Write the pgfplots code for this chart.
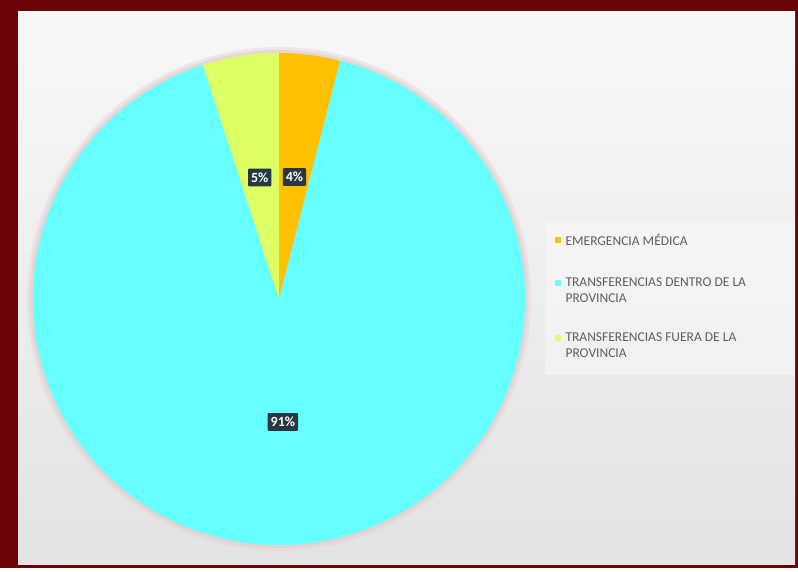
\documentclass[border=0pt]{standalone}
\usepackage{pgfplots}
\usepackage{pgfplotstable}
\pgfplotsset{compat=1.18}
\usepackage{fontspec}
\setmainfont{Carlito}
\definecolor{frame}{RGB}{105,5,8}
\definecolor{slice0}{RGB}{255,192,0}
\definecolor{slice1}{RGB}{102,255,255}
\definecolor{slice2}{RGB}{222,255,100}
\definecolor{lblbg}{RGB}{40,55,68}
\definecolor{legtext}{RGB}{95,95,95}
\tikzset{lbl/.style={fill=lblbg,text=white,font=\bfseries\fontsize{14}{14}\selectfont,inner xsep=3pt,inner ysep=4pt,rounded corners=1pt}}

\pgfplotstableread{
value
4
91
5
}\piedata

\begin{document}
\begin{tikzpicture}
\begin{axis}[x=1pt,y=1pt,xmin=0,xmax=798,ymin=0,ymax=568,
  hide axis, clip=false, scale only axis]
% frame and background
\fill[frame] (axis cs:0,0) rectangle (axis cs:798,568);
\fill[top color=gray!6,bottom color=gray!22] (axis cs:18,3) rectangle (axis cs:795,556);
% halo
\fill[red!25!gray!25,opacity=0.5] (axis cs:279,269) circle[radius=252pt];
\fill[red!25!gray!30,opacity=0.6] (axis cs:279,269) circle[radius=249pt];
% pie
\def\cum{0}
\pgfplotsforeachungrouped \i in {0,1,2}{%
  \pgfplotstablegetelem{\i}{value}\of\piedata
  \let\v=\pgfplotsretval
  \pgfmathsetmacro{\a}{90-3.6*\cum}%
  \pgfmathsetmacro{\b}{90-3.6*(\cum+\v)}%
  \pgfmathsetmacro{\sx}{279+246*cos(\a)}%
  \pgfmathsetmacro{\sy}{269+246*sin(\a)}%
  \edef\tmp{\noexpand\fill[slice\i] (axis cs:279,269) -- (axis cs:\sx,\sy) arc[start angle=\a, end angle=\b, radius=246pt] -- cycle;}%
  \tmp
  \pgfmathsetmacro{\cum}{\cum+\v}%
}
\def\cum{0}
\pgfplotsforeachungrouped \i in {0,1,2}{%
  \pgfplotstablegetelem{\i}{value}\of\piedata
  \let\v=\pgfplotsretval
  \pgfmathsetmacro{\a}{90-3.6*\cum}%
  \pgfmathsetmacro{\b}{90-3.6*(\cum+\v)}%
  \pgfmathsetmacro{\m}{(\a+\b)/2}%
  \pgfmathsetmacro{\lx}{279+123*cos(\m)}%
  \pgfmathsetmacro{\ly}{269+123*sin(\m)}%
  \edef\tmp{\noexpand\node[lbl] at (axis cs:\lx,\ly) {\v\noexpand\%};}%
  \tmp
  \pgfmathsetmacro{\cum}{\cum+\v}%
}
% legend
\fill[white,opacity=0.35] (axis cs:545,193) rectangle (axis cs:795,345);
\fill[slice0] (axis cs:555,325) rectangle (axis cs:561,331);
\node[anchor=west,text=legtext,font=\fontsize{13.5}{16}\selectfont] at (axis cs:562,328) {EMERGENCIA MÉDICA};
\fill[slice1] (axis cs:555,282) rectangle (axis cs:561,288);
\node[anchor=north west,text=legtext,align=left,font=\fontsize{13.5}{16}\selectfont] at (axis cs:562,294) {TRANSFERENCIAS DENTRO DE LA\\PROVINCIA};
\fill[slice2] (axis cs:555,227) rectangle (axis cs:561,233);
\node[anchor=north west,text=legtext,align=left,font=\fontsize{13.5}{16}\selectfont] at (axis cs:562,239) {TRANSFERENCIAS FUERA DE LA\\PROVINCIA};
\end{axis}
\end{tikzpicture}
\end{document}
